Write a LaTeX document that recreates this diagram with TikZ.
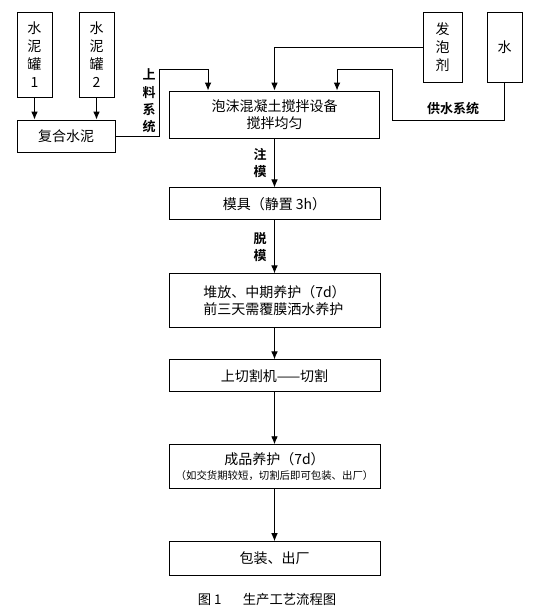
\documentclass[tikz,border=0pt]{standalone}
\usepackage{fontspec}
\setmainfont{Noto Sans CJK SC}[BoldFont={Noto Sans CJK SC Bold}]
\usetikzlibrary{positioning,calc,arrows.meta}

\tikzset{
  box/.style={draw, line width=0.7pt, inner sep=0pt, align=center, font=\fontsize{10.5pt}{12.75pt}\selectfont},
  tank/.style={box, minimum width=26.25pt, font=\fontsize{10.5pt}{13.5pt}\selectfont},
  stepbox/.style={box, minimum width=158.25pt},
  tag/.style={font=\bfseries\fontsize{9.75pt}{12.75pt}\selectfont, align=center, inner sep=0pt},
}

\begin{document}
\begin{tikzpicture}[x=0.75pt, y=-0.75pt, >={Latex[length=6pt,width=5pt]}, line width=0.7pt]
\useasboundingbox (0,0) rectangle (538,615);
% raw materials
\node[tank, minimum height=63.75pt] (tank1) at (34.5,54.5) {水\\泥\\罐\\1};
\node[tank, minimum height=63.75pt] (tank2) at (96.5,54.5) {水\\泥\\罐\\2};
\node[box, minimum width=73.5pt, minimum height=24pt] (cement) at (66,136) {复合水泥};
\node[tank, minimum width=29.25pt, minimum height=52.5pt] (foam) at (442.5,47) {发\\泡\\剂};
\node[tank, minimum height=52.5pt] (water) at (504.5,47) {水};
% main line
\node[stepbox, minimum width=157.5pt, minimum height=35.25pt] (mixer) at (274.5,114.5) {泡沫混凝土搅拌设备\\搅拌均匀};
\node[stepbox, minimum height=24pt, below=36.75pt of mixer] (mold) {模具（静置 3h）};
\node[stepbox, minimum height=40.5pt, align=left, below=39.75pt of mold] (cure) {堆放、中期养护（7d）\\前三天需覆膜洒水养护};
\node[stepbox, minimum height=24pt, below=23.25pt of cure] (cut) {上切割机——切割};
\node[stepbox, minimum height=33pt, below=39pt of cut] (finish) {成品养护（7d）\\[-1.5pt]{\fontsize{7.8pt}{9pt}\selectfont （如交货期较短，切割后即可包装、出厂）}};
\node[stepbox, minimum height=25.5pt, below=39pt of finish] (pack) {包装、出厂};
\node[font=\fontsize{10pt}{12pt}\selectfont, inner sep=0pt] (caption) at (267,599) {图 1\hspace{16pt}生产工艺流程图};
% feeding lines
\coordinate (feed) at (159,69);
\coordinate (w1) at (392,120);
\coordinate (w2) at (392,69);
\draw[->] (tank1) -- (tank1 |- cement.north);
\draw[->] (tank2) -- (tank2 |- cement.north);
\draw[->] (cement.east) -| (feed) -| ($(mixer.north west)+(39,0)$);
\node[tag, font=\bfseries\fontsize{9.75pt}{13pt}\selectfont] (feedtag) at (149,101) {上\\料\\系\\统};
\draw[->] (foam.west) -| (mixer.north);
\draw[->] (water.south) |- (w1) -- (w2) -| ($(mixer.north west)+(168,0)$);
\node[tag] (watertag) at (453,109) {供水系统};
% process arrows
\draw[->] (mixer) -- node[tag, left=5.5pt] {注\\模} (mold);
\draw[->] (mold) -- node[tag, left=5.5pt] {脱\\模} (cure);
\draw[->] (cure) -- (cut);
\draw[->] (cut) -- (finish);
\draw[->] (finish) -- (pack);
\end{tikzpicture}
\end{document}
